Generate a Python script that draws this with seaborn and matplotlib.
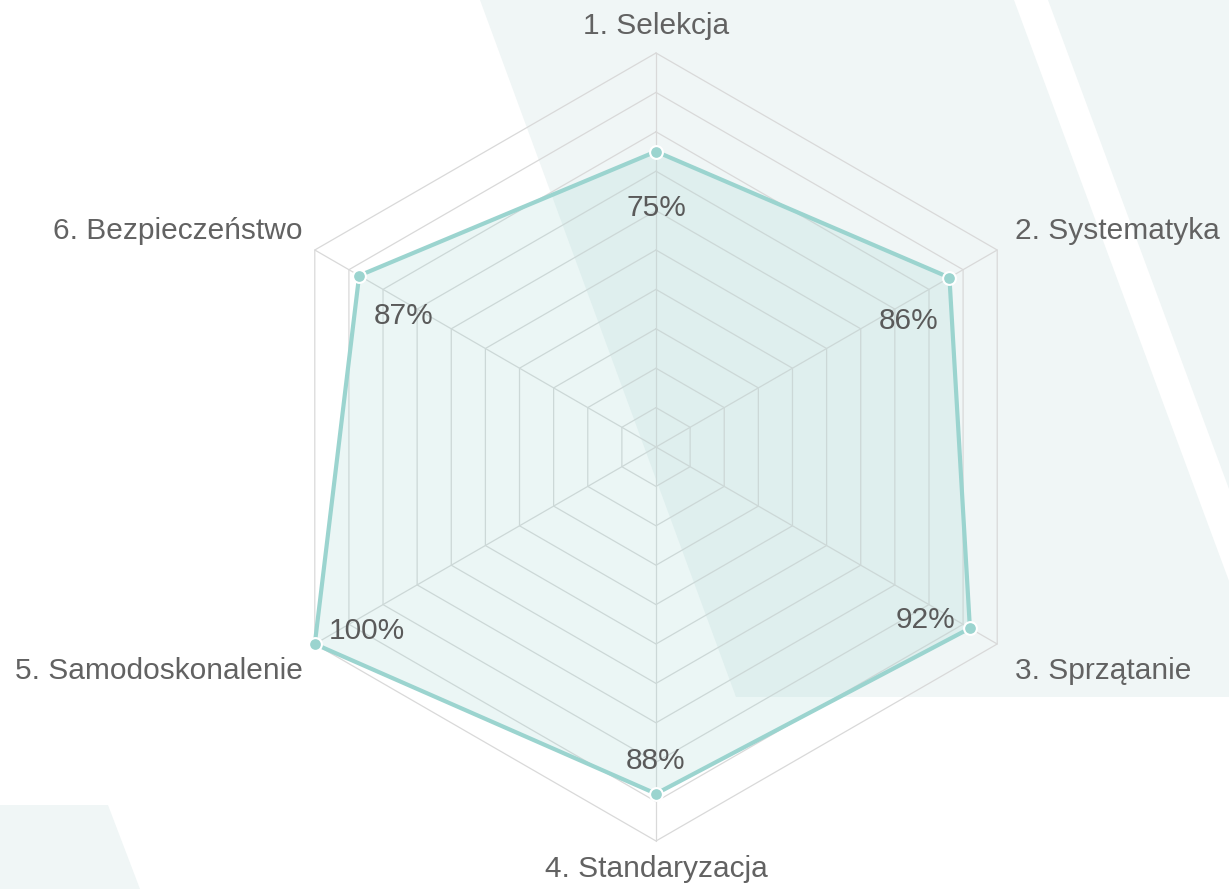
import numpy as np
import pandas as pd
import seaborn as sns
import matplotlib
matplotlib.use("Agg")
import matplotlib.pyplot as plt
from matplotlib.patches import Polygon

# ---- data ----
categories = ["1. Selekcja", "2. Systematyka", "3. Sprzątanie",
              "4. Standaryzacja", "5. Samodoskonalenie", "6. Bezpieczeństwo"]
values = [75, 86, 92, 88, 100, 87]
ring_ticks = list(range(10, 101, 10))
r_max = 100

# ---- style ----
sns.set_theme(style="white")
plt.rcParams['font.family'] = ['Liberation Sans', 'DejaVu Sans']

TEAL = "#9bd4cf"
GRID = "#d9d9d9"
TXT = "#626262"
BG_SHAPE = "#f0f6f6"

W, H, DPI = 1229, 889, 100
fig = plt.figure(figsize=(W / DPI, H / DPI), dpi=DPI)
fig.patch.set_facecolor("white")
ax = fig.add_axes([0, 0, 1, 1])
ax.set_facecolor("none")

# chart geometry (pixels)
cx, cy, R_px = 656, 447, 394
scale = R_px / r_max
ax.set_xlim(-cx / scale, (W - cx) / scale)
ax.set_ylim(-(H - cy) / scale, cy / scale)
ax.set_aspect("equal")
ax.axis("off")

# decorative background shapes (figure pixels)
def px(pts):
    return [(x / W, 1 - y / H) for x, y in pts]

shapes = [
    [(480, 0), (1014, 0), (1229, 581), (1229, 697), (736, 697)],
    [(1048, 0), (1229, 0), (1229, 489)],
    [(0, 805), (108, 805), (140, 889), (0, 889)],
]
for s in shapes:
    ax.add_patch(Polygon(px(s), closed=True, transform=fig.transFigure,
                         facecolor=BG_SHAPE, edgecolor="none", zorder=0))

n = len(categories)
angles = np.pi / 2 - np.arange(n) * 2 * np.pi / n
cosa, sina = np.cos(angles), np.sin(angles)

# grid rings and spokes
for t in ring_ticks:
    xs = np.append(t * cosa, t * cosa[0])
    ys = np.append(t * sina, t * sina[0])
    ax.plot(xs, ys, color=GRID, lw=0.9, zorder=2)
for c, s in zip(cosa, sina):
    ax.plot([0, r_max * c], [0, r_max * s], color=GRID, lw=0.9, zorder=2)

# data polygon
vals = np.array(values, dtype=float)
df = pd.DataFrame({"x": vals * cosa, "y": vals * sina, "cat": categories})
df_closed = pd.concat([df, df.iloc[[0]]], ignore_index=True)

ax.fill(df["x"], df["y"], color=TEAL, alpha=0.2, lw=0, zorder=3)
sns.lineplot(data=df_closed, x="x", y="y", sort=False, estimator=None,
             color=TEAL, lw=3, ax=ax, zorder=4)
sns.scatterplot(data=df, x="x", y="y", s=85, color=TEAL, edgecolor="white",
                linewidth=1.5, ax=ax, zorder=5, legend=False)
ax.set_xlabel("")
ax.set_ylabel("")

# category labels
cat_offsets = [(0, 19, "center"), (18, 11, "left"), (18, -35, "left"),
               (0, -36, "center"), (-12, -35, "right"), (-12, 11, "right")]
for cat, c, s, (dx, dy, ha) in zip(categories, cosa, sina, cat_offsets):
    ax.annotate(cat, xy=(r_max * c, r_max * s), xytext=(dx, dy),
                textcoords="offset pixels", ha=ha, va="baseline",
                fontsize=21.5, color=TXT, zorder=6)

# value labels
val_offsets = [(0, -65), (-41, -51), (-44, 0), (0, 25), (52, 5), (44, -48)]
for (x, y), v, (dx, dy) in zip(zip(df["x"], df["y"]), values, val_offsets):
    ax.annotate(f"{v}%", xy=(x, y), xytext=(dx, dy),
                textcoords="offset pixels", ha="center", va="baseline",
                fontsize=21.5, color="#5a5a5a", zorder=6)

fig.savefig("out.png", dpi=DPI)
